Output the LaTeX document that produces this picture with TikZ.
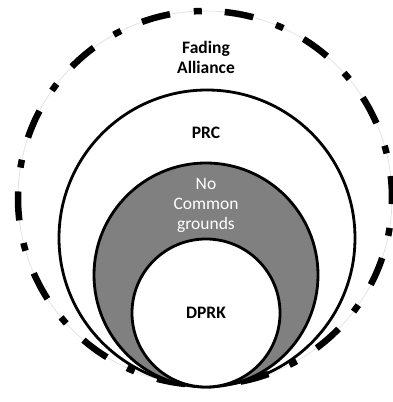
\documentclass[tikz,border=0pt]{standalone}
\usepackage{fontspec}
\setmainfont{Carlito}
\usepackage{xcolor}
\usetikzlibrary{positioning}

\begin{document}
\begin{tikzpicture}[x=1pt, y=1pt,
    ring/.style={circle, draw, line width=2.8pt, inner sep=0pt},
    dashdot/.style={line width=6.5pt, dash pattern=on 29pt off 23pt on 8pt off 24pt, dash phase=7pt},
    lbl/.style={align=center, font=\fontsize{17.5}{20}\selectfont}]
    \useasboundingbox (0,0) rectangle (393,402);

    % outer ring: thin line under the dash-dot
    \node[circle, draw=black!12, line width=0.7pt, inner sep=0pt, minimum size=374pt] (alliance) at (205,204) {};
    \draw[dashdot] (alliance.center) circle (187pt);

    \node[ring, minimum size=296pt] (prc) at (207,164) {};
    \node[ring, fill=black!50, minimum size=224pt] (nocommon) at (206,127) {};
    \node[ring, fill=white, minimum size=148pt] (dprk) at (206,89) {};

    \node[lbl, font=\fontsize{17.5}{20}\selectfont\bfseries] (alliancetxt) at (206,345) {Fading\\Alliance};
    \node[lbl, font=\fontsize{17.5}{20}\selectfont\bfseries] (prctxt) at (206,269) {PRC};
    \node[lbl, text=white] (nocommontxt) at (206,197) {No\\Common\\grounds};
    \node[lbl, font=\fontsize{17.5}{20}\selectfont\bfseries] (dprktxt) at (dprk) {DPRK};
\end{tikzpicture}
\end{document}
